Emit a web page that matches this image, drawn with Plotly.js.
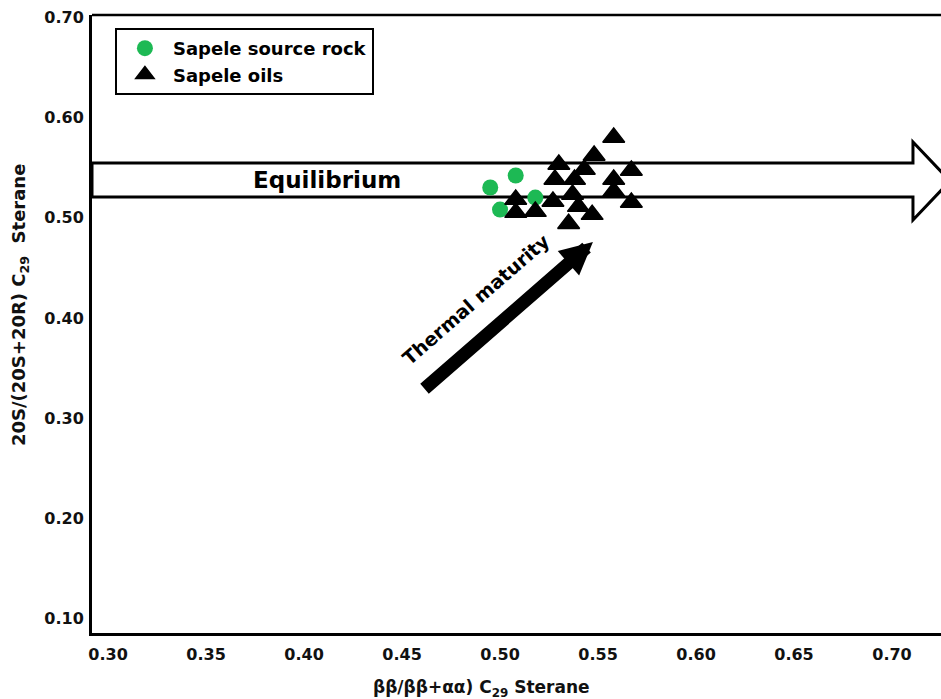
<!DOCTYPE html>
<html>
<head>
<meta charset="utf-8">
<script src="https://cdn.plot.ly/plotly-3.0.1.min.js"></script>
<style>html,body{margin:0;padding:0;background:#fff;overflow:hidden}#chart{width:941px;height:699px}</style>
</head>
<body>
<div id="chart"></div>
<script>
// Sapele source rock (green circles)
const rockX = [0.495, 0.508, 0.500, 0.518];
const rockY = [0.530, 0.542, 0.508, 0.520];
// Sapele oils (black triangles)
const oilX = [0.508, 0.508, 0.518, 0.527, 0.530, 0.528, 0.538, 0.537, 0.535, 0.547, 0.543, 0.548, 0.558, 0.558, 0.558, 0.567, 0.567, 0.540];
const oilY = [0.518, 0.505, 0.506, 0.516, 0.553, 0.538, 0.538, 0.523, 0.494, 0.503, 0.548, 0.562, 0.580, 0.538, 0.526, 0.547, 0.515, 0.511];
const xTicks = [0.30, 0.35, 0.40, 0.45, 0.50, 0.55, 0.60, 0.65, 0.70];
const xTickText = ['0.30', '0.35', '0.40', '0.45', '0.50', '0.55', '0.60', '0.65', '0.70'];
const yTicks = [0.10, 0.20, 0.30, 0.40, 0.50, 0.60, 0.70];
const yTickText = ['0.10', '0.20', '0.30', '0.40', '0.50', '0.60', '0.70'];

const F = 'DejaVu Sans, Verdana, sans-serif';

const traces = [
  {x: rockX, y: rockY, type: 'scatter', mode: 'markers', name: 'Sapele source rock',
   marker: {symbol: 'circle', size: 16, color: '#1db954'}},
  {x: oilX, y: oilY, type: 'scatter', mode: 'markers', name: 'Sapele oils',
   marker: {symbol: 'triangle-up', size: 19, color: '#000', line: {color: '#000', width: 1.5}}}
];

// Equilibrium outline arrow (data coords)
const eq = {x0: 0.2918, xs: 0.7107, xt: 0.7296, yt: 0.5544, yb: 0.5205, yht: 0.5754, yhb: 0.4976, ym: 0.5365};
const eqPath = `M${eq.x0},${eq.yt} L${eq.xs},${eq.yt} L${eq.xs},${eq.yht} L${eq.xt},${eq.ym} L${eq.xs},${eq.yhb} L${eq.xs},${eq.yb} L${eq.x0},${eq.yb} Z`;

const layout = {
  width: 941, height: 699,
  margin: {l: 92, r: 0, t: 15, b: 66},
  paper_bgcolor: '#fff', plot_bgcolor: '#fff',
  showlegend: true,
  legend: {x: 0.027, y: 0.979, xanchor: 'left', yanchor: 'top',
    bordercolor: '#000', borderwidth: 2, bgcolor: '#fff',
    font: {family: F, size: 18, color: '#000', weight: 700}, itemwidth: 46, tracegroupgap: 0},
  xaxis: {range: [0.2918, 0.725], tickvals: xTicks, ticktext: xTickText, ticks: '',
    showgrid: false, zeroline: false, showline: true, linecolor: '#000', linewidth: 3,
    tickfont: {family: F, size: 16, color: '#111', weight: 700}, ticklabelstandoff: 5},
  yaxis: {range: [0.0859, 0.702], tickvals: yTicks, ticktext: yTickText, ticks: '',
    showgrid: false, zeroline: false, showline: true, linecolor: '#000', linewidth: 3,
    tickfont: {family: F, size: 16, color: '#111', weight: 700}, ticklabelstandoff: 2},
  shapes: [
    {type: 'path', xref: 'x', yref: 'y', path: eqPath, fillcolor: '#fff', line: {color: '#000', width: 3}, layer: 'below'},
    {type: 'line', xref: 'paper', yref: 'paper', x0: 0, x1: 1, y0: 1, y1: 1, line: {color: '#000', width: 2.5}}
  ],
  annotations: [
    {x: 0.4117, y: 0.5375, xref: 'x', yref: 'y', text: 'Equilibrium', showarrow: false,
     font: {family: F, size: 23, color: '#000', weight: 700}},
    {x: 0.4878, y: 0.4188, xref: 'x', yref: 'y', text: 'Thermal maturity', showarrow: false, textangle: -41,
     font: {family: F, size: 19, color: '#000', weight: 700}},
    {x: 0.5474, y: 0.4757, xref: 'x', yref: 'y', ax: 0.4607, ay: 0.3281, axref: 'x', ayref: 'y',
     text: '', showarrow: true, arrowhead: 2, arrowsize: 0.5, arrowwidth: 13, arrowcolor: '#000', standoff: 0, startstandoff: 0},
    {x: 0.4587, y: -0.09, xref: 'paper', yref: 'paper', text: 'ββ/ββ+αα) C<sub>29</sub> Sterane', showarrow: false,
     font: {family: F, size: 17, color: '#111', weight: 700}, xanchor: 'center', yanchor: 'middle'},
    {x: -0.0848, y: 0.5307, xref: 'paper', yref: 'paper', text: '20S/(20S+20R) C<sub>29</sub>  Sterane', showarrow: false, textangle: -90,
     font: {family: F, size: 18, color: '#111', weight: 700}, xanchor: 'center', yanchor: 'middle'}
  ]
};

Plotly.newPlot('chart', traces, layout, {displayModeBar: false, staticPlot: true});
</script>
</body>
</html>
